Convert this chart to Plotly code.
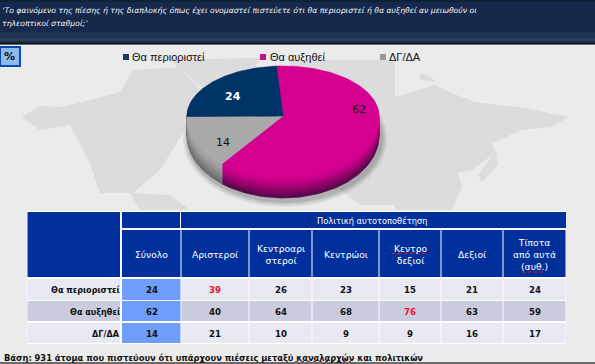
import numpy as np
import plotly.graph_objects as go

# ---- data ----
legend_labels = ["Θα περιοριστεί", "Θα αυξηθεί", "ΔΓ/ΔΑ"]
pie_values = [24, 62, 14]
pie_colors = ["#003366", "#D5008F", "#A9A9A9"]
columns = ["Σύνολο", "Αριστεροί", "Κεντροαρι<br>στεροί", "Κεντρώοι", "Κεντρο<br>δεξιοί", "Δεξιοί", "Τίποτα<br>από αυτά<br>(αυθ.)"]
row_labels = ["Θα περιοριστεί", "Θα αυξηθεί", "ΔΓ/ΔΑ"]
row_1 = [24, 39, 26, 23, 15, 21, 24]
row_2 = [62, 40, 64, 68, 76, 63, 59]
row_3 = [14, 21, 10, 9, 9, 16, 17]
question = ["‘Το φαινόμενο της πίεσης ή της διαπλοκής όπως έχει ονομαστεί πιστεύετε ότι θα περιοριστεί ή θα αυξηθεί αν μειωθούν οι",
            "τηλεοπτικοί σταθμοί;’"]
group_title = "Πολιτική αυτοτοποθέτηση"
footer = "Βάση: 931 άτομα που πιστεύουν ότι υπάρχουν πιέσεις μεταξύ καναλαρχών και πολιτικών"

W, H = 595, 364
FONT = "DejaVu Sans"
fig = go.Figure()
shapes, ann = [], []

def rect(x0, y0, x1, y1, c):
    shapes.append(dict(type="rect", x0=x0, x1=x1, y0=y0, y1=y1, fillcolor=c, line_width=0, layer="below"))

def text(x, y, s, size, color="#000", anchor="center", bold=False, italic=False, family=FONT):
    if bold: s = f"<b>{s}</b>"
    if italic: s = f"<i>{s}</i>"
    ann.append(dict(x=x, y=y, text=s, showarrow=False, xanchor=anchor, yanchor="middle",
                    font=dict(size=size, color=color, family=family), align="center"))

def squiggle(x0, x1, y):
    shapes.append(dict(type="line", x0=x0, x1=x1, y0=y, y1=y, layer="above",
                       line=dict(color="#E02030", width=1, dash="dot")))

# page background and header band
rect(0, 0, W, H, "#EBEBEB")
for y0, y1, c in [(0, 2, "#0E1F36"), (2, 32, "#16294A"), (32, 38, "#1E3350"), (38, 41, "#2A3E5C"), (41, 43, "#1A2B44"), (43, 44, "#0A0F18"), (44, 45, "#666A72")]:
    rect(0, y0, W, y1, c)

# map land masses, drawn as pale blobs behind the chart
land = [
    [(22, 117), (40, 106), (63, 107), (90, 100), (120, 92), (133, 70), (180, 67), (200, 90), (183, 133), (160, 170), (133, 193), (100, 193), (90, 163), (70, 125), (40, 130)],
    [(170, 60), (260, 58), (250, 78), (205, 90)],
    [(395, 97), (435, 85), (452, 93), (475, 102), (525, 108), (568, 117), (552, 127), (522, 130), (492, 143), (495, 153), (472, 170), (458, 173), (462, 187), (452, 210), (395, 210)],
    [(290, 60), (395, 60), (395, 205), (360, 205), (340, 190), (300, 190)],
    [(130, 193), (170, 195), (190, 210), (140, 210)],
    [(478, 175), (496, 150), (498, 165), (482, 182)],
    [(420, 72), (432, 78), (436, 82), (420, 80)],
]
for poly in land:
    path = "M" + " L".join(f"{x},{y}" for x, y in poly) + " Z"
    shapes.append(dict(type="path", path=path, fillcolor="#DCDCDC", line_width=0, layer="below"))

# percent button
rect(0, 46, 21, 67, "#0A4AA8")
rect(1, 48, 19, 65, "#8DBBF0")
text(9, 56.5, "%", 11, "#111", bold=True)

# legend
leg_box_x = [123, 260, 380]
leg_text_x = [129.5, 267.5, 386.5]
leg_col = ["#1F3A5F", "#C8108A", "#9A9A9A"]
for lx, tx, lab, col in zip(leg_box_x, leg_text_x, legend_labels, leg_col):
    rect(lx, 54, lx + 6, 60, col)
    text(tx, 56.5, lab, 11, "#111", anchor="left", family="Liberation Sans")

# 3D pie: stacked elliptical slices computed from the values
cx, cy, rx, ry_top, ry_bot, depth = 283, 116, 96, 50, 62, 20
start = -4.0
t = np.array(pie_values, float) / sum(pie_values) * 360
order = [1, 2, 0]
def ell_y(a):
    c = np.cos(a)
    return -np.where(c > 0, ry_top, ry_bot) * c
def slice_xy(a0, a1, dy):
    a = np.radians(np.linspace(a0, a1, 120))
    return (np.r_[cx, cx + rx * np.sin(a), cx].tolist(),
            np.r_[cy + dy, cy + dy + ell_y(a), cy + dy].tolist())
def mix(c, d, f):
    a = [int(c[i:i+2], 16) for i in (1, 3, 5)]
    b = [int(d[i:i+2], 16) for i in (1, 3, 5)]
    return "#%02x%02x%02x" % tuple(round(p + (q - p) * f) for p, q in zip(a, b))
# soft shadow
for k, al in [(6, .10), (4, .15), (2, .2)]:
    a = np.radians(np.linspace(0, 360, 160))
    fig.add_trace(go.Scatter(x=cx + 2 + (rx + k) * np.sin(a), y=cy + depth + 3 + (ry_bot + k) * np.cos(a), mode="lines",
                             fill="toself", fillcolor=f"rgba(90,90,90,{al})", line_width=0, hoverinfo="skip", showlegend=False))
for d in range(depth, 0, -1):
    f = d / depth
    a0 = start
    for i in order:
        a1 = a0 + t[i]
        x, y = slice_xy(a0, a1, d)
        c = mix(pie_colors[i], "#4a0a45" if i == 1 else "#666666" if i == 2 else "#001a33", f ** 1.3 * .95)
        fig.add_trace(go.Scatter(x=x, y=y, mode="lines", fill="toself", fillcolor=c, line=dict(color=c, width=.6),
                                 hoverinfo="skip", showlegend=False))
        a0 = a1
a0 = start
for i in order:
    a1 = a0 + t[i]
    x, y = slice_xy(a0, a1, 0)
    fig.add_trace(go.Scatter(x=x, y=y, mode="lines", fill="toself", fillcolor=pie_colors[i],
                             line=dict(color=pie_colors[i], width=.6), hoverinfo="skip", showlegend=False))
    a0 = a1
text(233, 96, str(pie_values[0]), 11, "#fff", bold=True)
text(359, 109, str(pie_values[1]), 11, "#111")
text(223, 142, str(pie_values[2]), 11, "#111")

# table
HDR = "#00309B"
edges = [122, 181, 249, 312, 379, 441, 503, 566]
rect(27, 211, 566, 344, "#FFFFFF")
rect(27.5, 212, 120, 277, HDR)
rect(122, 212, 180, 228, HDR)
rect(181, 212, 566, 228, HDR)
text(371.5, 221, group_title, 8.3, "#fff")
for i, lab in enumerate(columns):
    rect(edges[i] + (0.5 if i else 0), 230, edges[i + 1] - .5, 277, HDR)
    text((edges[i] + edges[i + 1]) / 2, 254, lab, 9.2, "#fff")
rows = [row_1, row_2, row_3]
tops = [279, 301, 323]
bots = [300, 321, 343]
bg = ["#E7E8F2", "#CACCDD", "#E7E8F2"]
for r, (vals, y0, y1, c, lab) in enumerate(zip(rows, tops, bots, bg, row_labels)):
    rect(27.5, y0, 120, y1, c)
    text(122, (y0 + y1) / 2 + .5, lab, 8.1, "#111", anchor="right", bold=True)
    for i, v in enumerate(vals):
        rect(edges[i] + (0.5 if i else 0), y0, edges[i + 1] - .5, y1, "#6F9DFB" if i == 0 else c)
        red = (r == 0 and i == 1) or (r == 1 and i == 4)
        text((edges[i] + edges[i + 1]) / 2, (y0 + y1) / 2 + .5, str(v), 8.6, "#F0101E" if red else "#111", bold=True)
squiggle(392, 428, 253.5)
squiggle(522, 543, 272)

# header question and footer
text(0, 10, question[0], 7.7, "#F2F2F2", anchor="left", italic=True)
text(0, 23.5, question[1], 7.7, "#F2F2F2", anchor="left", italic=True)
text(2, 357.5, footer, 8.3, "#111", anchor="left", bold=True)
squiggle(295, 351, 361.5)
rect(0, 362, W, H, "#6A6A6A")

fig.update_layout(width=W, height=H, margin=dict(l=0, r=0, t=0, b=0), showlegend=False,
                  plot_bgcolor="#EBEBEB", paper_bgcolor="#EBEBEB", shapes=shapes, annotations=ann,
                  xaxis=dict(range=[0, W], visible=False, fixedrange=True),
                  yaxis=dict(range=[H, 0], visible=False, fixedrange=True))
fig.write_html("out.html", config=dict(displayModeBar=False),
               post_script="document.body.style.margin='0';document.body.style.overflow='hidden';")
